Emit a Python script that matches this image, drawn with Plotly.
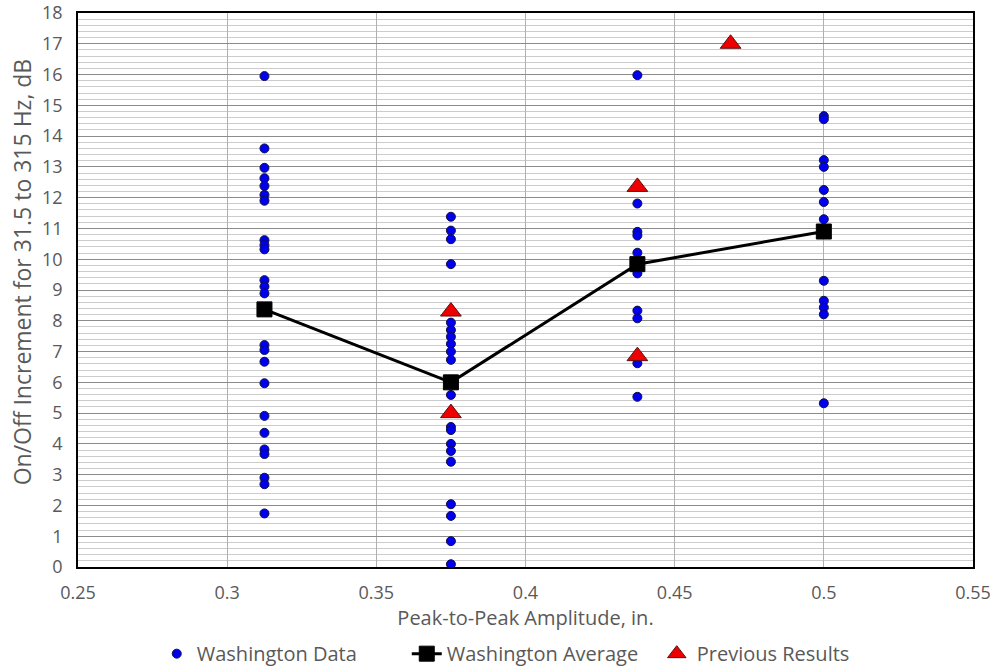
import plotly.graph_objects as go

# Peak-to-peak amplitude groups (in.)
amp_groups = [0.3125, 0.375, 0.4375, 0.5]

# Individual Washington measurements, dB, per amplitude group
wa_03125 = [15.95, 13.60, 12.97, 12.63, 12.38, 12.09, 11.90, 10.62, 10.46, 10.32,
            9.32, 9.11, 8.89, 8.35, 7.21, 7.05, 6.67, 5.97, 4.91, 4.36, 3.82,
            3.67, 2.90, 2.69, 1.74]
wa_0375 = [11.38, 10.93, 10.65, 9.84, 7.94, 7.70, 7.48, 7.25, 7.00, 6.73, 6.08,
           5.59, 4.55, 4.45, 4.00, 3.77, 3.42, 2.04, 1.66, 0.84, 0.09]
wa_04375 = [15.98, 11.81, 10.89, 10.77, 10.21, 9.54, 8.33, 8.08, 6.62, 5.53]
wa_05 = [14.65, 14.55, 13.22, 13.00, 12.25, 11.86, 11.30, 9.30, 8.65, 8.43,
         8.21, 5.32]

# Group averages, dB
wa_avg = [8.37, 6.0, 9.84, 10.9]

# Earlier published results
prev_x = [0.375, 0.375, 0.4375, 0.4375, 0.46875]
prev_y = [8.3, 5.0, 12.35, 6.85, 17.0]

data_x, data_y = [], []
for amp, vals in zip(amp_groups, [wa_03125, wa_0375, wa_04375, wa_05]):
    data_x += [amp] * len(vals)
    data_y += vals

FONT = "Open Sans"
GREY_TXT = "#595959"

fig = go.Figure()

fig.add_trace(go.Scatter(
    x=data_x, y=data_y, mode="markers", name="Washington Data",
    marker=dict(symbol="circle", size=9, color="#0000ee",
                line=dict(color="#10104a", width=1)),
    legendrank=1,
))
fig.add_trace(go.Scatter(
    x=amp_groups, y=wa_avg, mode="lines+markers", name="Washington Average",
    line=dict(color="black", width=3),
    marker=dict(symbol="square", size=15, color="black",
                line=dict(color="black", width=1)),
    legendrank=2,
))
fig.add_trace(go.Scatter(
    x=prev_x, y=prev_y, mode="markers", name="Previous Results",
    marker=dict(symbol="triangle-up", size=18, color="#ee0000",
                line=dict(color="#5a1010", width=1)),
    legendrank=3,
))

fig.update_layout(
    width=990, height=667,
    margin=dict(l=78, r=17, t=13, b=100),
    paper_bgcolor="white", plot_bgcolor="white",
    font=dict(family=FONT, color=GREY_TXT, size=18),
    showlegend=True,
    legend=dict(orientation="h", x=0.088, xanchor="left",
                yref="container", y=0.02, yanchor="middle",
                font=dict(size=20, color=GREY_TXT), traceorder="normal",
                itemwidth=30, entrywidth=205),
    xaxis=dict(
        range=[0.25, 0.55], dtick=0.05, tick0=0.25,
        showgrid=True, gridcolor="#b0b0b0", gridwidth=1,
        showline=True, linecolor="black", linewidth=2, mirror=True,
        ticks="", zeroline=False, automargin=False,
        ticklabelstandoff=8, ticklabeloverflow="allow",
        tickfont=dict(size=18, color=GREY_TXT),
        title=dict(text="Peak-to-Peak Amplitude, in.", font=dict(size=20, color=GREY_TXT),
                   standoff=6),
    ),
    yaxis=dict(
        range=[0, 18], dtick=1, tick0=0,
        showgrid=True, gridcolor="#8c8c8c", gridwidth=1,
        minor=dict(dtick=0.2, showgrid=True, gridcolor="#cccccc", gridwidth=1),
        showline=True, linecolor="black", linewidth=1.5, mirror=True,
        ticks="", zeroline=False, automargin=False,
        ticklabelstandoff=10,
        tickfont=dict(size=18, color=GREY_TXT),
    ),
    annotations=[dict(
        text="On/Off Increment for 31.5 to 315 Hz, dB",
        textangle=-90, xref="paper", yref="paper",
        x=-0.0625, y=0.532, xanchor="center", yanchor="middle",
        showarrow=False, font=dict(size=23, color=GREY_TXT),
    )],
)

fig.write_html("out.html")
